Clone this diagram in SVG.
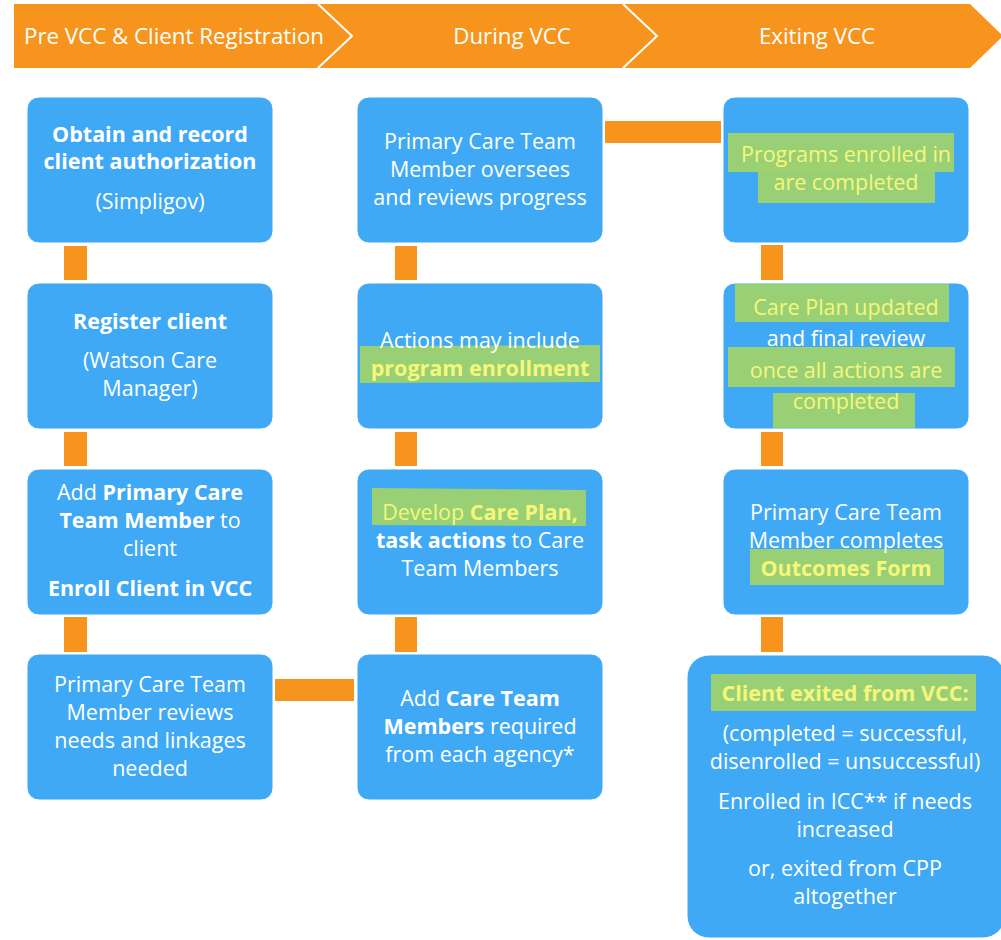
<svg xmlns="http://www.w3.org/2000/svg" width="1001" height="940" viewBox="0 0 1001 940">
<style>
.box{fill:#3FA9F5;stroke:#ffffff;stroke-width:1}
.bar{fill:#F7941D}
.t{font-family:"Open Sans","Noto Sans",sans-serif;font-size:21.5px;fill:#ffffff;text-anchor:middle}
.h{font-family:"Open Sans","Noto Sans",sans-serif;font-size:22.3px;fill:#ffffff;text-anchor:middle}
.b{font-weight:bold}
.y{fill:#F6F77A}
.hl{fill:#9ED26F;opacity:0.95}
</style>
<rect width="1001" height="940" fill="#ffffff"/>
<g id="header">
<path d="M14 4 H970 L1003 36 L970 68 H14 Z" fill="#F7941D"/>
<path d="M318 4 L352 36 L318 68 M623 4 L657 36 L623 68" fill="none" stroke="#ffffff" stroke-width="2"/>
<text class="h" x="174" y="44">Pre VCC &amp; Client Registration</text>
<text class="h" x="512" y="44">During VCC</text>
<text class="h" x="817" y="44">Exiting VCC</text>
</g>
<g id="connectors">
<rect class="bar" x="64" y="246" width="23" height="34"/>
<rect class="bar" x="64" y="432" width="23" height="34"/>
<rect class="bar" x="64" y="617" width="23" height="35"/>
<rect class="bar" x="275" y="679" width="79" height="22"/>
<rect class="bar" x="395" y="246" width="22" height="34"/>
<rect class="bar" x="395" y="432" width="22" height="34"/>
<rect class="bar" x="395" y="617" width="22" height="35"/>
<rect class="bar" x="605" y="121" width="116" height="22"/>
<rect class="bar" x="761" y="245" width="22" height="35"/>
<rect class="bar" x="761" y="432" width="22" height="34"/>
<rect class="bar" x="761" y="617" width="22" height="35"/>
</g>
<g id="n1">
<rect class="box" x="27" y="97" width="246" height="146" rx="12"/>
<text class="t b" x="150" y="142">Obtain and record</text>
<text class="t b" x="150" y="169">client authorization</text>
<text class="t" x="150" y="209">(Simpligov)</text>
</g>
<g id="n2">
<rect class="box" x="27" y="283" width="246" height="146" rx="12"/>
<text class="t b" x="150" y="329">Register client</text>
<text class="t" x="150" y="368">(Watson Care</text>
<text class="t" x="150" y="396">Manager)</text>
</g>
<g id="n3">
<rect class="box" x="27" y="469" width="246" height="146" rx="12"/>
<text class="t" x="150" y="500">Add <tspan class="b">Primary Care</tspan></text>
<text class="t" x="150" y="528"><tspan class="b">Team Member</tspan> to</text>
<text class="t" x="150" y="556">client</text>
<text class="t b" x="150" y="596">Enroll Client in VCC</text>
</g>
<g id="n4">
<rect class="box" x="27" y="654" width="246" height="146" rx="12"/>
<text class="t" x="150" y="692">Primary Care Team</text>
<text class="t" x="150" y="720">Member reviews</text>
<text class="t" x="150" y="748">needs and linkages</text>
<text class="t" x="150" y="776">needed</text>
</g>
<g id="n5">
<rect class="box" x="357" y="97" width="246" height="146" rx="12"/>
<text class="t" x="480" y="149">Primary Care Team</text>
<text class="t" x="480" y="177">Member oversees</text>
<text class="t" x="480" y="205">and reviews progress</text>
</g>
<g id="n6">
<rect class="box" x="357" y="283" width="246" height="146" rx="12"/>
<path class="hl" d="M360 346 L600 345 L600 382 L360 383 Z"/>
<text class="t" x="480" y="348">Actions may include</text>
<text class="t b y" x="480" y="376">program enrollment</text>
</g>
<g id="n7">
<rect class="box" x="357" y="469" width="246" height="146" rx="12"/>
<path class="hl" d="M372 488 L586 490 L586 526 L372 525 Z"/>
<text class="t y" x="480" y="520">Develop <tspan class="b">Care Plan,</tspan></text>
<text class="t" x="480" y="548"><tspan class="b">task actions</tspan> to Care</text>
<text class="t" x="480" y="576">Team Members</text>
</g>
<g id="n8">
<rect class="box" x="357" y="654" width="246" height="146" rx="12"/>
<text class="t" x="480" y="706">Add <tspan class="b">Care Team</tspan></text>
<text class="t" x="480" y="734"><tspan class="b">Members</tspan> required</text>
<text class="t" x="480" y="762">from each agency*</text>
</g>
<g id="n9">
<rect class="box" x="723" y="97" width="246" height="146" rx="12"/>
<rect class="hl" x="728" y="133" width="226" height="39"/>
<rect class="hl" x="758" y="163" width="177" height="40"/>
<text class="t y" x="846" y="162">Programs enrolled in</text>
<text class="t y" x="846" y="190">are completed</text>
</g>
<g id="n10">
<rect class="box" x="723" y="283" width="246" height="146" rx="12"/>
<rect class="hl" x="735" y="284" width="214" height="38"/>
<rect class="hl" x="728" y="347" width="227" height="40"/>
<rect class="hl" x="773" y="393" width="142" height="35"/>
<text class="t y" x="846" y="315">Care Plan updated</text>
<text class="t" x="846" y="346">and final review</text>
<text class="t y" x="846" y="378">once all actions are</text>
<text class="t y" x="846" y="409">completed</text>
</g>
<g id="n11">
<rect class="box" x="723" y="469" width="246" height="146" rx="12"/>
<rect class="hl" x="750" y="549" width="194" height="36"/>
<text class="t" x="846" y="520">Primary Care Team</text>
<text class="t" x="846" y="548">Member completes</text>
<text class="t b y" x="846" y="576">Outcomes Form</text>
</g>
<g id="n12">
<rect class="box" x="687" y="655" width="318" height="283" rx="22"/>
<rect class="hl" x="711" y="674" width="265" height="37"/>
<text class="t b y" x="845" y="701">Client exited from VCC:</text>
<text class="t" x="845" y="741">(completed = successful,</text>
<text class="t" x="845" y="769">disenrolled = unsuccessful)</text>
<text class="t" x="845" y="809">Enrolled in ICC**  if needs</text>
<text class="t" x="845" y="837">increased</text>
<text class="t" x="845" y="876">or, exited from CPP</text>
<text class="t" x="845" y="904">altogether</text>
</g>
</svg>
